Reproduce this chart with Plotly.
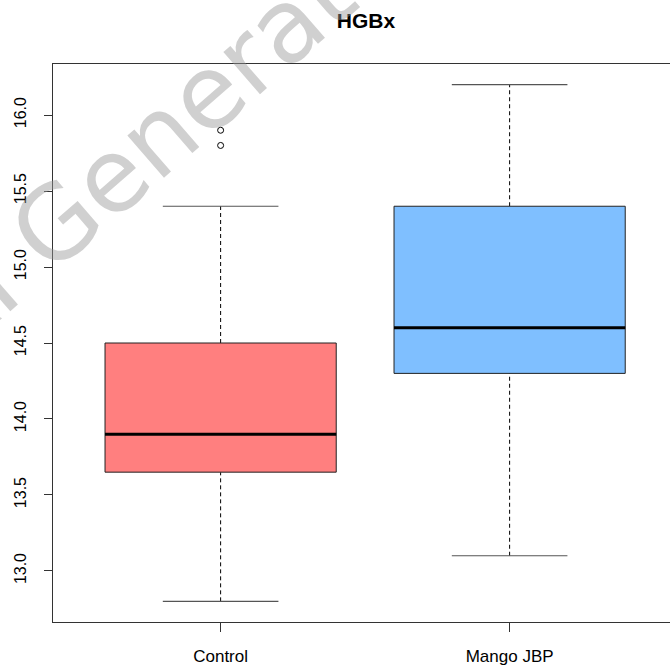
import plotly.graph_objects as go

# ---- data ----
categories = ["Control", "Mango JBP"]
whisker_low = [12.8, 13.1]
q1 = [13.65, 14.3]
median = [13.9, 14.6]
q3 = [14.5, 15.4]
whisker_high = [15.4, 16.2]
outliers = [[15.8, 15.9], []]
fill_colors = ["#FF7F7F", "#7FBFFF"]
y_ticks = [13.0, 13.5, 14.0, 14.5, 15.0, 15.5, 16.0]
y_tick_labels = ["13.0", "13.5", "14.0", "14.5", "15.0", "15.5", "16.0"]
title_text = "HGBx"
watermark = "AI Generated"

BOX_HALF = 0.4
CAP_HALF = 0.2
FONT = "Liberation Sans, Arial, sans-serif"

fig = go.Figure()
for i, cat in enumerate(categories):
    xc = i + 1
    # dashed whiskers
    fig.add_trace(go.Scatter(
        x=[xc, xc, None, xc, xc],
        y=[whisker_low[i], q1[i], None, q3[i], whisker_high[i]],
        mode="lines", line=dict(color="black", width=1, dash="4px,3px"),
        hoverinfo="skip", showlegend=False))
    # staples
    fig.add_trace(go.Scatter(
        x=[xc - CAP_HALF, xc + CAP_HALF, None, xc - CAP_HALF, xc + CAP_HALF],
        y=[whisker_low[i], whisker_low[i], None, whisker_high[i], whisker_high[i]],
        mode="lines", line=dict(color="#555555", width=1.2),
        hoverinfo="skip", showlegend=False))
    # box
    fig.add_trace(go.Scatter(
        x=[xc - BOX_HALF, xc + BOX_HALF, xc + BOX_HALF, xc - BOX_HALF, xc - BOX_HALF],
        y=[q1[i], q1[i], q3[i], q3[i], q1[i]],
        mode="lines", fill="toself", fillcolor=fill_colors[i],
        line=dict(color="#222222", width=1),
        hoverinfo="skip", showlegend=False))
    # median
    fig.add_trace(go.Scatter(
        x=[xc - BOX_HALF, xc + BOX_HALF],
        y=[median[i], median[i]],
        mode="lines", line=dict(color="black", width=3),
        hoverinfo="skip", showlegend=False))
    # outliers
    if outliers[i]:
        fig.add_trace(go.Scatter(
            x=[xc] * len(outliers[i]), y=outliers[i],
            mode="markers",
            marker=dict(symbol="circle-open", size=6, color="black", line=dict(width=1)),
            hoverinfo="skip", showlegend=False))

fig.update_layout(
    width=670, height=669,
    margin=dict(l=53, r=0, t=64, b=47),
    plot_bgcolor="white", paper_bgcolor="white",
    font=dict(family=FONT, color="black"),
    title=dict(text="<b>" + title_text + "</b>", x=366 / 670, xanchor="center",
               y=1 - 21 / 669, yanchor="middle", xref="container", yref="container",
               font=dict(size=21, family=FONT, color="black")),
    xaxis=dict(range=[0.42, 0.42 + 617 / 289], tickmode="array", tickvals=[1, 2],
               ticktext=categories, ticks="outside", ticklen=9, tickcolor="#333333",
               ticklabelstandoff=10,
               showline=True, linecolor="#333333", linewidth=1, mirror=True,
               showgrid=False, zeroline=False, tickfont=dict(size=17, family=FONT, color="black")),
    yaxis=dict(range=[12.664, 16.336], tickmode="array", tickvals=y_ticks,
               ticktext=y_tick_labels, tickangle=-90, ticks="outside", ticklen=8,
               ticklabelstandoff=12,
               tickcolor="#333333", showline=True, linecolor="#333333", linewidth=1,
               showgrid=False, zeroline=False,
               tickfont=dict(size=16, family=FONT, color="black")),
)

fig.add_annotation(
    text=watermark, xref="paper", yref="paper",
    x=(180 - 53) / 617, y=(622 - 116) / 558, xanchor="center", yanchor="middle",
    textangle=-41, showarrow=False,
    font=dict(size=102, family="DejaVu Sans, sans-serif", color="rgba(150,150,150,0.45)"),
)

fig.write_html("out.html")
